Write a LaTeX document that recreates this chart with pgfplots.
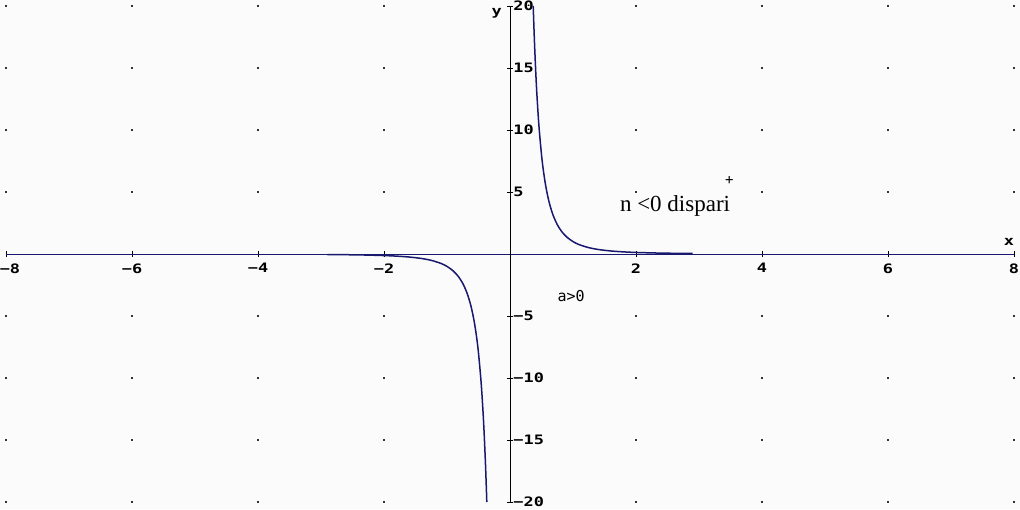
\documentclass[border=0pt]{standalone}
\usepackage{pgfplots}
\pgfplotsset{compat=1.18}
\usepackage{fontspec}
\setmainfont{Liberation Serif}
\newfontfamily\tickfont[FakeStretch=1.3]{DejaVu Sans Mono}
\newfontfamily\monofont{DejaVu Sans Mono}
\definecolor{navy}{RGB}{24,24,110}
\definecolor{bg}{RGB}{251,251,251}
\pgfplotstableread{
x y
-8 -20
-8 -15
-8 -10
-8 -5
-8 5
-8 10
-8 15
-8 20
-6 -20
-6 -15
-6 -10
-6 -5
-6 5
-6 10
-6 15
-6 20
-4 -20
-4 -15
-4 -10
-4 -5
-4 5
-4 10
-4 15
-4 20
-2 -20
-2 -15
-2 -10
-2 -5
-2 5
-2 10
-2 15
-2 20
2 -20
2 -15
2 -10
2 -5
2 5
2 10
2 15
2 20
4 -20
4 -15
4 -10
4 -5
4 5
4 10
4 15
4 20
6 -20
6 -15
6 -10
6 -5
6 5
6 10
6 15
6 20
8 -20
8 -15
8 -10
8 -5
8 5
8 10
8 15
8 20
}\griddots
\pgfplotstableread{
x y
0.3684 20.0
0.375 18.96
0.39 16.86
0.41 14.51
0.43 12.58
0.46 10.27
0.5 8.0
0.53 6.717
0.57 5.400
0.62 4.196
0.68 3.180
0.75 2.370
0.82 1.814
0.9 1.372
1.0 1.0
1.1 0.7513
1.25 0.512
1.4 0.3644
1.6 0.2441
1.8 0.1715
2.0 0.125
2.3 0.0822
2.6 0.0569
2.9 0.041
}\rightbranch
\pgfplotstableread{
x y
-2.9 -0.041
-2.6 -0.0569
-2.3 -0.0822
-2.0 -0.125
-1.8 -0.1715
-1.6 -0.2441
-1.4 -0.3644
-1.25 -0.512
-1.1 -0.7513
-1.0 -1.0
-0.9 -1.372
-0.82 -1.814
-0.75 -2.370
-0.68 -3.180
-0.62 -4.196
-0.57 -5.400
-0.53 -6.717
-0.5 -8.0
-0.46 -10.27
-0.43 -12.58
-0.41 -14.51
-0.39 -16.86
-0.375 -18.96
-0.3684 -20.0
}\leftbranch
\begin{document}
\begin{tikzpicture}[x=1pt,y=1pt]
\fill[bg] (0,0) rectangle (510,254.5);
\path[use as bounding box] (0,0) rectangle (510,254.5);
\begin{axis}[
  at={(3pt,3.5pt)}, anchor=south west,
  scale only axis, width=504pt, height=248pt,
  xmin=-8, xmax=8, ymin=-20, ymax=20,
  axis lines=middle,
  x axis line style={draw=navy, line width=0.5pt, -},
  y axis line style={draw=black, line width=0.5pt, -},
  xtick={-8,-6,-4,-2,2,4,6,8},
  xticklabels={\hspace*{4pt}−8,−6,−4,−2,2,4,6,8},
  ytick={-20,-15,-10,-5,5,10,15,20},
  yticklabels={−20,−15,−10,−5,5,10,15,20},
  tick align=center,
  major tick length=3pt,
  tick style={black, line width=0.4pt},
  xticklabel style={font=\tickfont\bfseries\fontsize{6.5}{7}\selectfont, anchor=north, inner sep=0pt, yshift=-3pt},
  yticklabel style={font=\tickfont\bfseries\fontsize{6.5}{7}\selectfont, anchor=west, inner sep=0pt, xshift=3pt},
  clip=false,
]
\addplot[only marks, mark=square*, mark size=0.35pt, draw=black!80, fill=black!80] table[x=x,y=y] {\griddots};
\addplot[navy, line width=0.75pt, smooth] table[x=x,y=y] {\rightbranch};
\addplot[navy, line width=0.75pt, smooth] table[x=x,y=y] {\leftbranch};
\node[font=\tickfont\bfseries\fontsize{6.5}{7}\selectfont] at (axis cs:7.92,0.97) {x};
\node[font=\tickfont\bfseries\fontsize{6.5}{7}\selectfont] at (axis cs:-0.21,19.4) {y};
\node[font=\fontsize{11.5}{13}\selectfont] at (axis cs:2.62,3.9) {n <0 dispari};
\node[font=\monofont\fontsize{7}{8}\selectfont] at (axis cs:3.48,5.89) {+};
\node[font=\monofont\fontsize{7.5}{8}\selectfont] at (axis cs:0.97,-3.39) {a>0};
\end{axis}
\end{tikzpicture}
\end{document}
